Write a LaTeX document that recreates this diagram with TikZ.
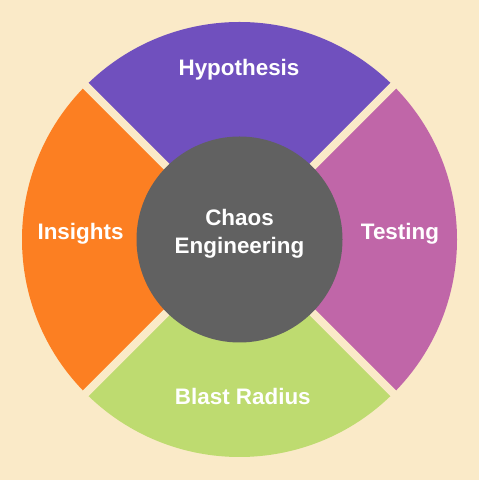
\documentclass[tikz,border=0pt]{standalone}
\usepackage{fontspec}
\setmainfont{Liberation Sans}
\definecolor{bgcream}{RGB}{250,234,200}
\definecolor{segpurple}{RGB}{112,80,190}
\definecolor{segorange}{RGB}{252,127,34}
\definecolor{segpink}{RGB}{192,102,168}
\definecolor{seggreen}{RGB}{190,219,112}
\definecolor{coredark}{RGB}{97,97,97}
\begin{document}
\begin{tikzpicture}[x=1bp,y=1bp,
  lbl/.style={text=white,font=\fontsize{22.5}{27}\selectfont\bfseries,anchor=base,inner sep=0pt}]
\fill[bgcream] (0,0) rectangle (479,480);
\useasboundingbox (0,0) rectangle (479,480);
\coordinate (c) at (239.5,240.5);
\def\R{217.5}
\fill[segpurple] (c) -- ++(45:\R) arc[start angle=45,end angle=135,radius=\R] -- cycle;
\fill[segorange] (c) -- ++(135:\R) arc[start angle=135,end angle=225,radius=\R] -- cycle;
\fill[seggreen] (c) -- ++(225:\R) arc[start angle=225,end angle=315,radius=\R] -- cycle;
\fill[segpink] (c) -- ++(-45:\R) arc[start angle=-45,end angle=45,radius=\R] -- cycle;
\foreach \a in {45,135,225,315}{
  \draw[bgcream,line width=8bp] (c) -- ++(\a:\R+6);
}
\fill[coredark] (c) circle[radius=103];
\node[lbl] (hyp) at (239,404) {Hypothesis};
\node[lbl] (ins) at (80.5,240) {Insights};
\node[lbl] (tst) at (400,240) {Testing};
\node[lbl] (bla) at (242.8,75.7) {Blast Radius};
\node[lbl] (cha) at (239.5,254) {Chaos};
\node[lbl] (eng) at (239.5,226.3) {Engineering};
\end{tikzpicture}
\end{document}
